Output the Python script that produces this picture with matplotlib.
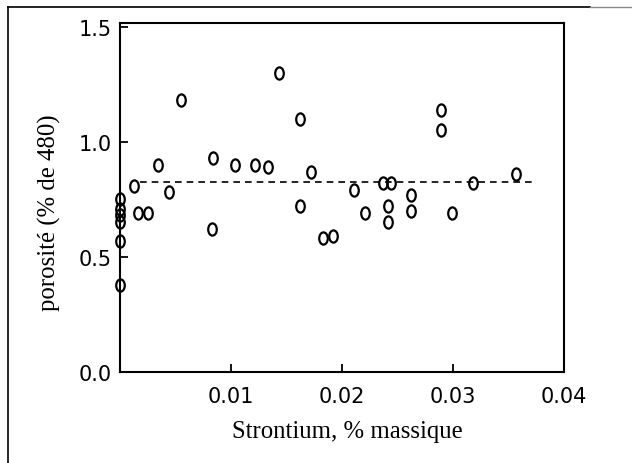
import numpy as np
import matplotlib
matplotlib.use("Agg")
import matplotlib.pyplot as plt
from matplotlib.path import Path
from matplotlib.lines import Line2D

# strontium content (% massique) and porosity (% de 480) per sample
strontium = [0.0, 0.0, 0.0, 0.0, 0.0, 0.0,
             0.0013, 0.0016, 0.0025, 0.0034, 0.0044, 0.0055,
             0.0083, 0.0084, 0.0104, 0.0122, 0.0133, 0.0143,
             0.0162, 0.0162, 0.0172, 0.0183, 0.0192, 0.0211,
             0.0221, 0.0237, 0.0244, 0.0241, 0.0241, 0.0262,
             0.0262, 0.0289, 0.0289, 0.0299, 0.0318, 0.0357]
porosite = [0.75, 0.71, 0.68, 0.65, 0.57, 0.38,
            0.81, 0.69, 0.69, 0.90, 0.78, 1.18,
            0.62, 0.93, 0.90, 0.90, 0.89, 1.30,
            1.10, 0.72, 0.87, 0.58, 0.59, 0.79,
            0.69, 0.82, 0.82, 0.72, 0.65, 0.77,
            0.70, 1.14, 1.05, 0.69, 0.82, 0.86]

# mean level drawn as a dashed line
moyenne = 0.825
moyenne_x = [0.0018, 0.0375]

xticks = [0.0, 0.01, 0.02, 0.03, 0.04]
xticklabels = ["", "0.01", "0.02", "0.03", "0.04"]
yticks = [0.0, 0.5, 1.0, 1.5]
yticklabels = ["0.0", "0.5", "1.0", "1.5"]

plt.rcParams.update({"font.family": "DejaVu Sans"})

fig = plt.figure(figsize=(6.32, 4.64), dpi=100)
ax = fig.add_axes([120 / 632, 1 - 373 / 464, 444 / 632, 349 / 464])

# narrow upright ellipse as the marker
circ = Path.unit_circle()
ellipse = Path(circ.vertices * np.array([0.7, 1.0]), circ.codes)

ax.plot(moyenne_x, [moyenne, moyenne], color="black", lw=1.2,
        linestyle=(0, (4, 3)), zorder=1)
ax.plot(strontium, porosite, linestyle="none", marker=ellipse,
        markersize=8.8, markerfacecolor="none", markeredgecolor="black",
        markeredgewidth=1.6, clip_on=False, zorder=3)

ax.set_xlim(0, 0.04)
ax.set_ylim(0, 1.516)
ax.set_xticks(xticks)
ax.set_xticklabels(xticklabels)
ax.set_yticks(yticks)
ax.set_yticklabels(yticklabels)
ax.tick_params(direction="in", length=6, width=1.3, labelsize=15,
               colors="black")
ax.tick_params(axis="x", pad=10)
ax.tick_params(axis="y", pad=6)
for s in ax.spines.values():
    s.set_linewidth(1.5)

fig.text(347 / 632, 1 - 432 / 464, "Strontium, % massique",
         family="Liberation Serif", fontsize=17.8, ha="center", va="center")
fig.text(49 / 632, 1 - 213 / 464, "porosité (% de 480)",
         family="Liberation Serif", fontsize=17.8, rotation=90,
         ha="center", va="center")

# partial outer frame (left and top edges)
fig.add_artist(Line2D([8 / 632, 8 / 632], [0, 1 - 8 / 464],
                      transform=fig.transFigure, color="black", lw=1.2))
fig.add_artist(Line2D([8 / 632, 590 / 632], [1 - 8 / 464, 1 - 8 / 464],
                      transform=fig.transFigure, color="black", lw=1.2))
fig.add_artist(Line2D([590 / 632, 1], [1 - 8 / 464, 1 - 8 / 464],
                      transform=fig.transFigure, color="#888888", lw=1.0))

fig.savefig("out.png", dpi=100)
